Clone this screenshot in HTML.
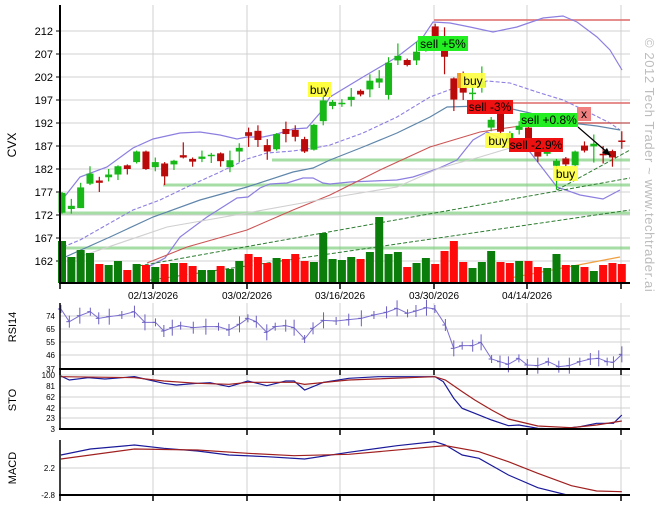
<!DOCTYPE html>
<html><head><meta charset="utf-8">
<style>
html,body{margin:0;padding:0;background:#fff;}
svg{display:block;font-family:"Liberation Sans",sans-serif;}
</style></head>
<body>
<svg id="s" width="657" height="514" viewBox="0 0 657 514" xmlns="http://www.w3.org/2000/svg">
<rect width="657" height="514" fill="#fff"/>
<g id="grid"></g>
<g id="lines"></g>
<g id="vol"></g>
<g id="cand"></g>
<g id="lab"></g>
<text x="645" y="38" transform="rotate(90 645 38)" font-size="13" fill="#bcbcbc" letter-spacing="0.6">© 2012 Tech Trader ~ www.techtrader.ai</text>
<text x="16" y="145" transform="rotate(-90 16 145)" font-size="12" text-anchor="middle">CVX</text>
<text x="16" y="327" transform="rotate(-90 16 327)" font-size="11" text-anchor="middle">RSI14</text>
<text x="16" y="400" transform="rotate(-90 16 400)" font-size="11" text-anchor="middle">STO</text>
<text x="16" y="468" transform="rotate(-90 16 468)" font-size="11" text-anchor="middle">MACD</text>
</svg>
<script>
var NS="http://www.w3.org/2000/svg";
function el(p,t,a,txt){var e=document.createElementNS(NS,t);for(var k in a)e.setAttribute(k,a[k]);if(txt!==undefined)e.textContent=txt;document.getElementById(p).appendChild(e);return e;}
function X(i){return 62+9.33*i;}
function Y(p){return 31+(212-p)*4.6;}
var L=60,R=630;
// main grid
[212,207,202,197,192,187,182,177,172,167,162].forEach(function(p){var y=Y(p);
 el('grid','line',{x1:L,x2:R,y1:y,y2:y,stroke:'#d0d0d0','stroke-width':1});
 el('grid','line',{x1:L-4,x2:L,y1:y,y2:y,stroke:'#000'});
 el('lab','text',{x:L-7,y:y+4,'font-size':11,'text-anchor':'end'},p);});
var vx=[153,247,340,434,527,621];
vx.forEach(function(x){el('grid','line',{x1:x,x2:x,y1:5,y2:283,stroke:'#d0d0d0'});
 [[303,369],[369,429],[440,495]].forEach(function(r){el('grid','line',{x1:x,x2:x,y1:r[0],y2:r[1],stroke:'#d0d0d0'});});
 [283,369,429,495].forEach(function(y){el('lab','line',{x1:x,x2:x,y1:y,y2:y+6,stroke:'#000','stroke-width':1.5});});});
el('lab','line',{x1:L,x2:L,y1:369,y2:375,stroke:'#000','stroke-width':1.5});
el('lab','line',{x1:L,x2:L,y1:495,y2:501,stroke:'#000','stroke-width':1.5});
el('lab','line',{x1:L,x2:L,y1:283,y2:289,stroke:'#000','stroke-width':1.5});
var dl=["02/13/2026","03/02/2026","03/16/2026","03/30/2026","04/14/2026"];
dl.forEach(function(d,i){el('lab','text',{x:vx[i],y:299,'font-size':10,'text-anchor':'middle'},d);});
// axes
el('lab','line',{x1:L,x2:L,y1:5,y2:284,stroke:'#000','stroke-width':2});
el('lab','line',{x1:L-1,x2:R,y1:283,y2:283,stroke:'#000','stroke-width':2});
// horizontal bands
function hl(x1,x2,y,c,w,o){el('lines','line',{x1:x1,x2:x2,y1:y,y2:y,stroke:c,'stroke-width':w,'stroke-opacity':o});}
hl(272,630,160,'#7fcf7f',3,0.7);hl(163,630,185,'#7fcf7f',3,0.7);hl(L,630,213,'#7fcf7f',3,0.7);hl(L,630,248,'#7fcf7f',3,0.7);
hl(434,630,20,'#e07070',2,0.8);hl(470,630,103,'#e07070',2,0.8);hl(575,630,123,'#c05050',1.5,0.8);
function pl(pts,c,w,dash){el('lines','polyline',{points:pts.map(function(p){return p.join(',')}).join(' '),fill:'none',stroke:c,'stroke-width':w||1,'stroke-dasharray':dash||''});}
pl([[62,200],[80,177],[107,167],[133,148],[153,139],[180,133],[200,132],[220,135],[237,139],[247,137],[263,137],[277,134],[293,129],[307,128],[320,113],[330,97],[363,77],[397,57],[423,37],[433,22],[450,23],[470,27],[493,32],[517,27],[543,18],[563,16],[577,22],[597,37],[610,50],[622,70]],'#8c7fe0',1.2);
pl([[150,266],[165,258],[180,237],[207,217],[237,198],[248,197],[260,188],[270,184],[287,183],[303,178],[313,178],[323,183],[330,184],[350,182],[397,180],[413,177],[437,169],[457,160],[473,140],[487,132],[530,152],[557,187],[580,195],[603,199],[620,190]],'#8c7fe0',1.2);
pl([[63,247],[80,240],[110,223],[133,210],[160,200],[187,187],[220,172],[247,159],[267,153],[293,151],[320,147],[330,145],[363,133],[397,117],[430,97],[457,87],[487,81],[510,83],[537,92],[563,100],[590,113],[610,123],[620,130]],'#8c7fe0',1.1,'4,2');
pl([[63,258],[110,237],[153,217],[200,200],[247,187],[293,172],[313,168],[330,160],[363,147],[397,133],[430,117],[447,107],[480,106],[503,107],[530,113],[563,122],[597,126],[620,130]],'#5f86aa',1.2);
pl([[147,263],[187,247],[247,230],[293,210],[330,195],[380,170],[430,147],[480,132],[513,127],[547,123],[620,123]],'#cc5555',1.1);
pl([[70,260],[167,227],[247,213],[330,198],[397,187],[440,168],[480,157],[510,148]],'#cfcfcf',1.1);
pl([[133,267],[630,178]],'#2e7d32',1,'4,2');
pl([[130,283],[630,210]],'#2e7d32',1,'4,2');
pl([[557,190],[630,150]],'#2e7d32',1,'4,2');
pl([[510,278],[620,257]],'#f0a040',1.2);
// candles
var C=[[172.5,176.8,177,172.3],[173.3,174,175.5,172.3],[173.5,178,179,173.5],[178.8,181,182.6,178.5],[179.5,179,180.3,177,1],[180.2,180.8,182,179.3],[180.8,182.6,182.8,179.6],[182.8,182,183,180.8],[183.5,185.8,186,183.2],[185.8,182,186,181.8],[182.4,183.5,184.5,181.5],[183.2,180.4,183.5,178.5],[183,183.8,184,181.8],[185,184.5,187.8,184.3],[184.2,183.6,184.5,182.5],[184.2,184.7,186,183.5],[185,185.1,185.5,183.3],[185.4,183.7,185.6,182.5],[182.4,183.9,186,181.3],[185.8,186.6,187.6,183.5],[190,189.2,191,186.8],[190.3,188.3,191.5,186.8],[187.2,185.8,188.5,184],[186.3,189.6,189.8,186],[190.7,189.6,192.3,187.8],[190.5,189,191.5,188],[188.5,185.8,189,185.5],[186.2,191.6,191.8,186],[192.4,196.9,198.5,191.5],
[195.7,196.6,197,195],[196.3,196.4,197.2,195.5],[197,197.7,199.6,195.6],[199,198.2,199.3,197.8],[199.3,201.2,202.6,197.6],[200.8,201.7,203.5,199.6],[198.1,205.1,206.3,197.1],[205.6,206.6,209.3,204.6],[205.7,204.6,206,204.3],[205.6,207.5,209.6,204.6],[208.2,209.3,210.8,207.5],[213,210.8,213.6,210.5],[207.9,206.4,212.8,202.6],[201.7,197.1,201.9,194.6],[200,198.6,203.2,197],[198.4,198.6,200.5,196.8],[199.8,201,204.3,198.6],[191,192.7,193.3,190.2],[194.1,190.1,194.5,189.5],[187.6,189.8,190.2,187.3],[190.5,191.4,192.4,189.5],[191,188.5,191.3,188],[186.3,184.7,186.6,183.5],[185.3,186.1,186.5,184.8],[182.7,183.8,184.2,177.5],[184.3,183,184.6,182.5],[182.8,185.8,186,182.5],[187.1,186,188,185.6],[186.9,187.5,189.5,183.4],[185.2,185.3,187,183.2,1],[185.9,184.5,186.2,182.5],[188.1,188.2,190.2,186.4,1]];
C.forEach(function(c,i){var x=X(i),red=c[1]<c[0]||c[4];var col=red?'#bb0a0a':'#19b819';
 el('cand','line',{x1:x,x2:x,y1:Y(c[2]),y2:Y(c[3]),stroke:col,'stroke-width':1.2});
 var t=Y(Math.max(c[0],c[1])),b=Y(Math.min(c[0],c[1]));var h=Math.max(b-t,1.5);
 el('cand','rect',{x:x-3.5,y:t,width:7,height:h,fill:col});});
var V=[241,257,250,253,264,265,261,270,264,265,267,264,263,263,266,270,270,266,269,261,254,257,263,258,259,254,261,262,233,259,260,257,259,252,217,254,252,267,263,258,264,251,241,262,268,262,251,262,263,261,261,267,268,254,265,265,267,271,265,263,264];
var VR=[4,7,9,11,13,14,17,20,21,22,24,25,26,32,37,40,41,42,43,47,48,50,51,54,56,58,59,60];
V.forEach(function(v,i){var r=VR.indexOf(i)>=0;el('vol','rect',{x:X(i)-4,y:v,width:8,height:283-v,fill:r?'#ff0a0a':'#0b7d0b'});});
// signal labels
function box(x,y,w,h,bg,t,op){el('lab','rect',{x:x,y:y,width:w,height:h,fill:bg,'fill-opacity':op||1});el('lab','text',{x:x+w/2,y:y+h-3,'font-size':12,'text-anchor':'middle'},t);}
box(308,82,23,15,'#ffff40','buy');
box(418,36,50,15,'#22ee22','sell +5%');
el('lab','rect',{x:457,y:73,width:8,height:15,fill:'#f0a020'});box(461,73,24,15,'#ffff40','buy',0.9);
box(467,100,46,14,'#ee1111','sell -3%');
box(520,113,58,14,'#22ee22','sell +0.8%');
box(577,107,14,14,'#f08080','x');
box(485,133,26,15,'#ffff40','buy',0.9);
box(509,138,54,14,'#ee1111','sell -2.9%');
box(553,166,25,15,'#ffff40','buy',0.9);
el('lab','line',{x1:578,y1:127,x2:608,y2:153,stroke:'#000','stroke-width':1.2});
el('lab','polygon',{points:'611,156 602,153 607,148',fill:'#000'});
// sub panels
function panel(top,bot,ticks){ticks.forEach(function(t){el('grid','line',{x1:L,x2:R,y1:t[1],y2:t[1],stroke:'#d0d0d0'});el('lab','text',{x:L-5,y:t[1]+3,'font-size':8,'text-anchor':'end'},t[0]);});
 el('lab','line',{x1:L,x2:L,y1:top,y2:bot,stroke:'#000','stroke-width':1.5});
 el('lab','line',{x1:L-1,x2:R,y1:bot,y2:bot,stroke:'#000','stroke-width':2});}
panel(303,369,[[74,316],[65,329],[55,342],[46,355],[37,369]]);
panel(370,429,[[100,375],[81,386],[62,397],[42,408],[23,418],[3,429]]);
panel(440,495,[[2.2,468],[-2.8,495]]);
function zp(a,dy){return a.map(function(p){return [p[0]/2.38,295+p[1]/3];});}
var rsi=[[145,42],[165,80],[190,62],[215,50],[235,70],[260,65],[290,60],[320,50],[345,82],[370,82],[390,108],[410,98],[430,92],[460,98],[490,95],[520,95],[545,105],[570,88],[590,70],[610,80],[635,112],[655,95],[680,92],[700,98],[725,132],[745,100],[770,76],[800,78],[830,74],[860,70],[890,60],[920,52],[945,40],[970,55],[990,48],[1015,38],[1035,42],[1060,90],[1080,160],[1100,152],[1125,152],[1145,142],[1170,192],[1190,200],[1210,208],[1235,190],[1255,210],[1280,212],[1305,200],[1330,215],[1355,212],[1380,200],[1405,192],[1425,190],[1445,200],[1460,202],[1480,178]];
var rp=zp(rsi);pl(rp,'#7b6fd0',1);
rp.forEach(function(p,i){var d=(i%3)*2+4;el('lines','line',{x1:p[0],x2:p[0],y1:p[1]-d,y2:p[1]+d,stroke:'#6a5fc0','stroke-width':1});el('lines','line',{x1:p[0]-3,x2:p[0],y1:p[1],y2:p[1],stroke:'#6a5fc0'});});
pl(zp([[145,243],[165,255],[210,248],[250,252],[320,245],[390,265],[420,270],[470,265],[500,263],[545,275],[590,258],[635,272],[680,258],[700,258],[725,285],[770,262],[830,250],[900,245],[1035,245],[1055,260],[1080,310],[1100,340],[1130,355],[1170,375],[1210,392],[1235,390],[1280,400],[1330,402],[1380,395],[1420,385],[1460,385],[1480,360]]),'#1a1a9a',1.2);
pl(zp([[145,245],[320,248],[390,258],[470,265],[545,268],[590,262],[700,262],[725,268],[830,255],[1035,245],[1060,255],[1100,290],[1130,315],[1170,345],[1210,372],[1280,393],[1360,398],[1420,390],[1480,378]]),'#a02020',1.2);
pl(zp([[145,480],[215,462],[320,450],[390,460],[470,468],[545,480],[635,485],[725,492],[830,472],[945,452],[1035,440],[1060,450],[1100,480],[1140,490],[1210,540],[1280,578],[1350,600],[1420,600]]),'#1a1a9a',1.2);
pl(zp([[145,492],[320,462],[470,465],[590,475],[700,482],[830,478],[1060,452],[1140,470],[1210,500],[1280,535],[1360,572],[1420,588],[1480,590]]),'#a02020',1.2);
</script>
</body></html>
